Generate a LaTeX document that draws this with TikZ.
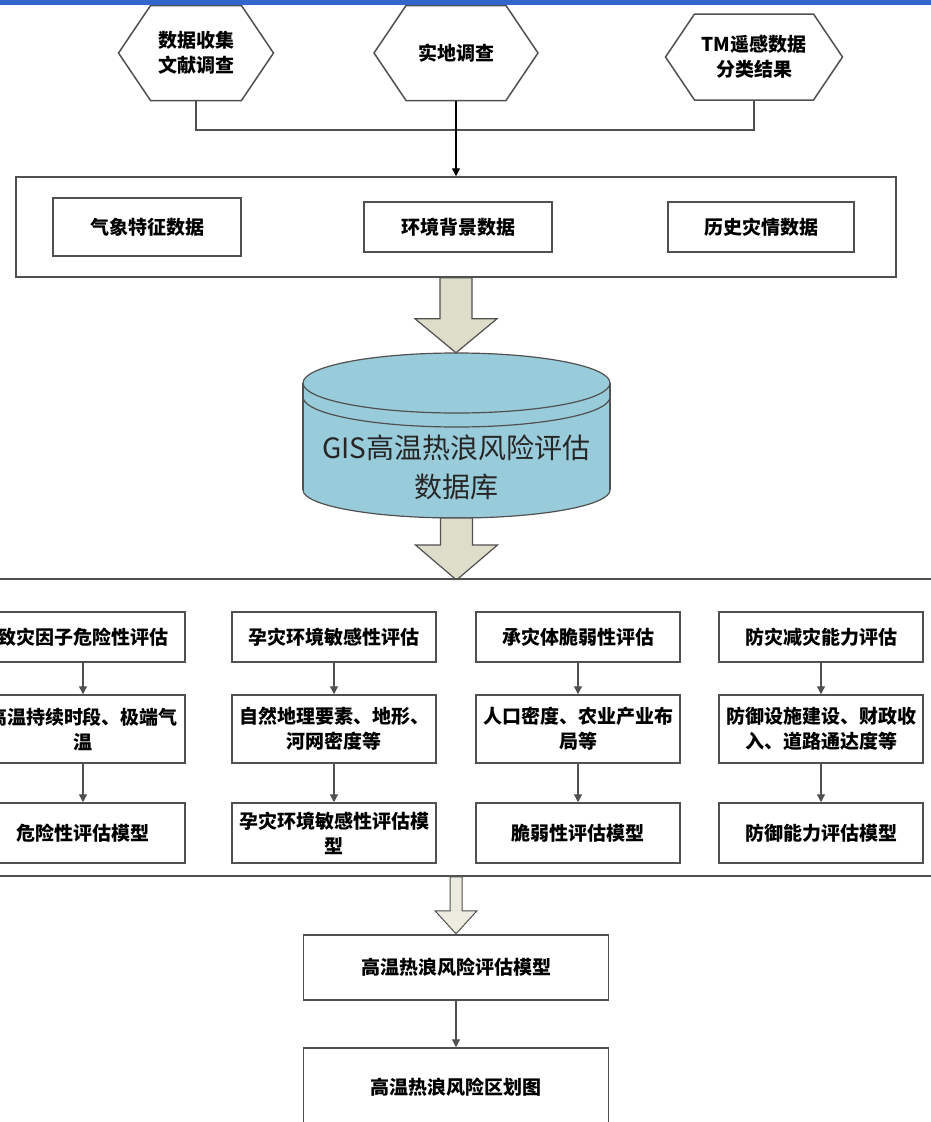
\documentclass[tikz,border=0pt]{standalone}
\usepackage{fontspec}
\usetikzlibrary{shapes.symbols}
\usetikzlibrary{arrows.meta}
\newfontfamily\cjk{Noto Sans CJK SC}
\definecolor{barblue}{RGB}{51,102,204}
\definecolor{dbblue}{RGB}{153,204,218}
\definecolor{fatgray}{RGB}{221,221,202}
\definecolor{edgegray}{RGB}{80,80,80}
\tikzset{
  plainbox/.style={draw=edgegray, line width=1.5pt, fill=white, align=center, inner sep=0pt,
    font=\cjk\bfseries\fontsize{19}{25}\selectfont},
  hexbox/.style={plainbox, signal, signal to=west and east, signal pointer angle=112},
  colbox/.style={plainbox, minimum width=204pt},
  flow/.style={draw=edgegray, line width=1.3pt, -{Triangle[width=8pt,length=8pt]}},
  fatarrow/.style={draw=edgegray, line width=1.2pt, fill=fatgray}
}

\begin{document}
\begin{tikzpicture}[x=1pt,y=-1pt]
\useasboundingbox (0,0) rectangle (931,1122);
\clip (0,0) rectangle (931,1122);
\fill[white] (0,0) rectangle (931,1122);

% sources
\node[hexbox, minimum width=155pt, minimum height=95pt] (h1) at (196,53) {数据收集\\文献调查};
\node[hexbox, minimum width=164pt, minimum height=95pt] (h2) at (456,53) {实地调查};
\node[hexbox, minimum width=177pt, minimum height=86pt] (h3) at (754,57) {TM遥感数据\\分类结果};
\fill[barblue] (0,0) rectangle (931,5);

% data layer
\node[plainbox, minimum width=880pt, minimum height=100pt] (datapool) at (456,227) {};
\node[plainbox, minimum width=188pt, minimum height=58pt] (met) at (147,227) {气象特征数据};
\node[plainbox, minimum width=188pt, minimum height=50pt] (env) at (458,227) {环境背景数据};
\node[plainbox, minimum width=186pt, minimum height=50pt] (hist) at (761,227) {历史灾情数据};

\coordinate (j2) at (456,130);
\draw[edgegray, line width=1.3pt] (h1.south) |- (j2) -| (h3.south);
\draw[flow, black] (h2.south) -- (datapool.north);

\draw[fatarrow] ([xshift=-16pt]datapool.south) -- ++(0,41) -- ++(-25,0) -- ++(41,34)
  -- ++(41,-34) -- ++(-25,0) -- ++(0,-41) -- cycle;

% database
\coordinate (dbtop) at (456.5,383);
\coordinate (dbbot) at (456.5,490);
\filldraw[fill=dbblue, draw=edgegray, line width=1.2pt] (dbbot) ellipse [x radius=153.5, y radius=28];
\fill[dbblue] (303,383) rectangle (610,490);
\draw[edgegray, line width=1.2pt] (303,383) -- (303,490) (610,383) -- (610,490);
\filldraw[fill=dbblue, draw=edgegray, line width=1.2pt] (dbtop) ellipse [x radius=153.5, y radius=30];
\draw[edgegray, line width=1.2pt] plot[domain=180:360, samples=40, smooth] ({456.5+153.5*cos(\x)}, {397-30*sin(\x)});
\node[align=center, text=black!85, font=\cjk\fontsize{28}{39}\selectfont] (dblabel) at (456.5,467) {GIS高温热浪风险评估\\数据库};

\draw[fatarrow] ([xshift=-16pt,yshift=-28pt]dbbot) -- ++(0,27) -- ++(-25,0) -- ++(41,35)
  -- ++(41,-35) -- ++(-25,0) -- ++(0,-27) -- cycle;

% assessment layer
\node[plainbox, minimum width=960pt, minimum height=297pt] (stage) at (456,727.5) {};
\foreach \c/\x/\ta/\tb/\tc in {
  1/83/{致灾因子危险性评估}/{高温持续时段、极端气\\温}/{危险性评估模型},
  2/334/{孕灾环境敏感性评估}/{自然地理要素、地形、\\河网密度等}/{孕灾环境敏感性评估模\\型},
  3/578/{承灾体脆弱性评估}/{人口密度、农业产业布\\局等}/{脆弱性评估模型},
  4/821/{防灾减灾能力评估}/{防御设施建设、财政收\\入、道路通达度等}/{防御能力评估模型}}
{
  \node[colbox, minimum height=50pt] (t\c) at (\x,637) {\ta};
  \node[colbox, minimum height=68pt] (m\c) at (\x,729) {\tb};
  \node[colbox, minimum height=60pt] (b\c) at (\x,833) {\tc};
  \draw[flow] (t\c) -- (m\c);
  \draw[flow] (m\c) -- (b\c);
}

\draw[fatarrow, fill=fatgray!60, line width=1pt] ([xshift=-6pt]stage.south) -- ++(0,34) -- ++(-15,0) -- ++(21,23)
  -- ++(21,-23) -- ++(-15,0) -- ++(0,-34) -- cycle;

% result
\node[plainbox, minimum width=305pt, minimum height=65pt] (model) at (456,967.5) {高温热浪风险评估模型};
\node[plainbox, minimum width=305pt, minimum height=78pt] (zone) at (456,1087) {高温热浪风险区划图};
\draw[flow] (model) -- (zone);
\end{tikzpicture}
\end{document}
